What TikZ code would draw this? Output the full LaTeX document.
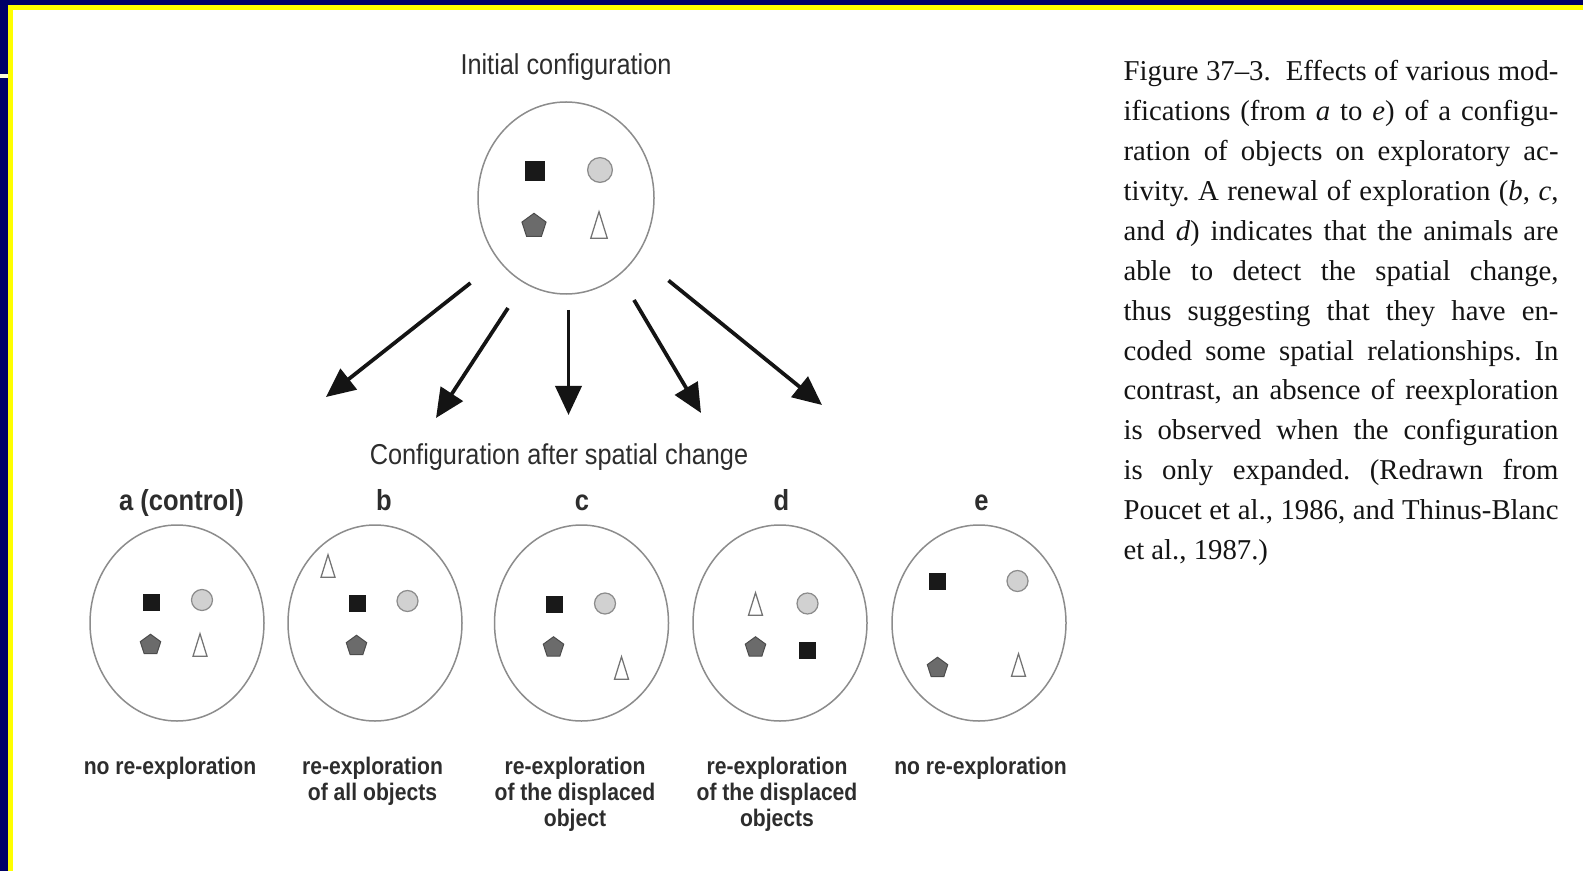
\documentclass[tikz,border=0pt]{standalone}
\usepackage{fontspec}
\setmainfont{Liberation Serif}
\newfontfamily\narrowsans[FakeStretch=0.88]{Liberation Sans}
\usepackage{xcolor}
\usetikzlibrary{arrows.meta,shapes.geometric,positioning}

\definecolor{frameblue}{RGB}{0,0,102}
\definecolor{frameyellow}{RGB}{255,255,0}
\definecolor{labelgray}{RGB}{45,45,45}

\tikzset{
  arena/.style={ellipse, draw=black!45, line width=0.6pt, inner sep=0pt, minimum width=69.6pt, minimum height=78.4pt},
  tag/.style={font=\narrowsans\bfseries\fontsize{11.6}{13}\selectfont, text=labelgray, anchor=base},
  heading/.style={font=\narrowsans\fontsize{11.5}{13}\selectfont, text=labelgray},
  result/.style={font=\narrowsans\bfseries\fontsize{9.6}{10.4}\selectfont, text=labelgray, align=center, anchor=north, inner sep=0pt},
  shift arrow/.style={-{Triangle[length=11.6pt,width=10.4pt]}, line width=1.5pt, black!92},
  objsq/.pic={\fill[black!90] (-3.4pt,-3.4pt) rectangle (3.4pt,3.4pt);},
  objball/.pic={\draw[black!45, fill=black!18, line width=0.5pt] (0,0) circle (4.2pt);},
  objpent/.pic={\draw[black!70, fill=black!58, line width=0.4pt] (90:4.3pt) -- (162:4.3pt) -- (234:4.3pt) -- (306:4.3pt) -- (18:4.3pt) -- cycle;},
  objcone/.pic={\draw[black!55, fill=white, line width=0.5pt] (-2.8pt,-4.5pt) -- (2.8pt,-4.5pt) -- (0,4.5pt) -- cycle;},
}

\begin{document}
\begin{tikzpicture}[x=0.4pt, y=-0.4pt]
% frame of the slide
\path[use as bounding box, fill=white] (0,0) rectangle (1583,871);
\fill[frameblue] (0,0) rectangle (1583,5);
\fill[frameblue] (0,0) rectangle (8,871);
\fill[frameyellow] (8,5) rectangle (1583,10);
\fill[frameyellow] (8,5) rectangle (12.5,871);
\fill[yellow!15!white] (0,74) rectangle (8,78);

% initial configuration
\node[arena, minimum width=70.4pt, minimum height=76.8pt] (init) at (566,198) {};
\node[heading] (initlbl) at (566,67) {Initial configuration};
\foreach \p/\x/\y in {objsq/535/171, objball/600/170, objpent/534/226, objcone/599/225}
  \pic[scale=1.18] at (\x,\y) {\p};

% arrows to the changed configurations
\foreach \i/\sx/\sy/\tx/\ty in {1/470.5/283/326/397, 2/508/308/436/418, 3/568.5/310/568.5/415, 4/634/300/701/413, 5/668.5/280.5/822/405} {
  \coordinate (from\i) at (\sx,\sy);
  \coordinate (to\i) at (\tx,\ty);
  \draw[shift arrow] (from\i) -- (to\i);
}
\node[heading] (afterlbl) at (559,457) {Configuration after spatial change};

% configurations a to e
\foreach \n/\x/\lx/\lab in {A/177/181.5/a (control), B/375/384/b, C/581.5/582/c, D/780/781.5/d, E/979/981.5/e} {
  \node[arena] (arena\n) at (\x,623) {};
  \node[tag] (tag\n) at (\lx,510) {\lab};
}
\foreach \p/\x/\y in {
  objsq/151.5/602, objball/202/600, objpent/150.5/645, objcone/200/645,
  objcone/328/566, objsq/357/603.5, objball/407.5/601, objpent/356.5/646,
  objsq/554/604, objball/605/603.5, objpent/553.5/647.5, objcone/621.5/668,
  objcone/755.5/604, objball/807.5/603.5, objpent/755.5/647.5, objsq/807/650.5,
  objsq/937/581, objball/1017.5/581, objpent/937.5/668, objcone/1018.5/665}
  \pic at (\x,\y) {\p};
\foreach \n/\x/\txt in {A/170/no re-exploration, B/372.5/re-exploration\\of all objects, C/575/re-exploration\\of the displaced\\object, D/777/re-exploration\\of the displaced\\objects, E/980.5/no re-exploration}
  \node[result] (result\n) at (\x,756.5) {\txt};

% caption
\node[anchor=north west, inner sep=0pt, text width=174pt, align=justify, text=black!92,
  font=\fontsize{11.5}{15.96}\selectfont] (caption) at (1123,60)
  {\frenchspacing\tolerance=10000\hyphenpenalty=10000
   Figure 37–3.\ \ Effects of various mod-\linebreak
   ifications (from \textit{a} to \textit{e}) of a configu-\linebreak
   ration of objects on exploratory ac-\linebreak
   tivity. A renewal of exploration (\textit{b}, \textit{c},\linebreak
   and \textit{d}) indicates that the animals are\linebreak
   able to detect the spatial change,\linebreak
   thus suggesting that they have en-\linebreak
   coded some spatial relationships. In\linebreak
   contrast, an absence of reexploration\linebreak
   is observed when the configuration\linebreak
   is only expanded. (Redrawn from\linebreak
   Poucet et al., 1986, and Thinus-Blanc\linebreak
   et al., 1987.)};
\end{tikzpicture}
\end{document}
